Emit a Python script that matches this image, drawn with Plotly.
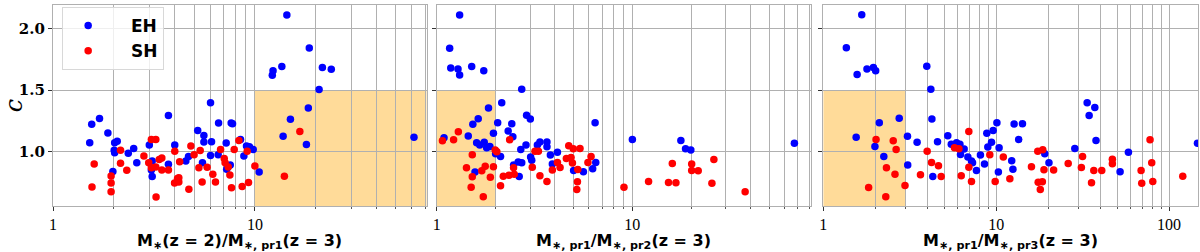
import math
import plotly.graph_objects as go

# ---------------- data ----------------
p1_eh_x = [1.52, 1.555, 1.70, 1.87, 2.01, 2.02, 2.08, 2.02, 1.98, 2.36, 2.51, 2.60, 3.0, 3.07, 3.10, 3.10,
           3.73, 3.73, 4.01, 4.55, 4.69, 5.21, 5.59, 5.59, 5.5, 6.03, 6.1, 6.03, 6.61, 6.58, 7.21, 7.63,
           7.75, 7.55, 7.25, 8.49, 8.82, 9.09, 9.4, 9.81, 10.5, 14.4, 18.6, 13.6, 12.3, 12.2, 21.6, 23.9,
           20.8, 18.4, 15.0, 13.8, 18.0, 61.4]
p1_eh_y = [1.073, 1.223, 1.269, 1.151, 1.013, 1.073, 1.086, 0.992, 0.839, 0.987, 1.027, 0.911, 1.054, 0.852,
           0.925, 0.80, 1.293, 0.898, 1.054, 0.925, 0.962, 1.172, 1.132, 1.078, 0.911, 1.398, 1.081, 0.97,
           1.234, 0.976, 1.07, 1.234, 1.226, 0.892, 0.858, 1.1, 0.965, 1.046, 1.04, 1.019, 0.836, 2.108,
           1.841, 1.691, 1.656, 1.621, 1.683, 1.669, 1.505, 1.355, 1.263, 1.126, 1.059, 1.118]
p1_sh_x = [1.56, 1.60, 1.94, 1.94, 1.94, 2.16, 2.16, 2.32, 2.82, 2.98, 3.07, 3.23, 3.07, 3.23, 3.36, 3.46,
           3.46, 3.73, 3.24, 4.01, 4.24, 4.0, 4.14, 4.2, 4.2, 4.71, 4.82, 5.0, 5.28, 5.36, 5.48, 5.8, 6.19,
           6.38, 6.76, 7.05, 7.12, 7.38, 7.52, 7.66, 7.9, 8.33, 8.65, 9.16, 9.3, 10.0, 16.7, 14.0]
p1_sh_y = [0.715, 0.9, 0.804, 0.747, 0.675, 1.013, 0.906, 0.849, 0.965, 0.911, 1.099, 1.099, 0.871, 0.876,
           0.938, 0.949, 0.852, 0.852, 0.632, 1.005, 0.919, 0.747, 0.782, 0.755, 0.79, 0.696, 1.046, 0.976,
           0.871, 1.011, 0.755, 0.874, 0.817, 0.755, 1.019, 0.946, 0.911, 0.876, 0.812, 0.707, 1.019, 1.091,
           0.718, 1.005, 0.75, 0.884, 1.164, 0.801]

p2_eh_x = [1.31, 1.165, 1.18, 1.285, 1.31, 1.51, 1.74, 2.72, 2.15, 1.84, 1.63, 1.53, 1.45, 1.09, 1.60, 1.66,
           1.75, 1.80, 1.87, 1.95, 2.05, 2.0, 2.12, 1.57, 2.32, 2.42, 2.45, 2.69, 2.86, 2.88, 3.01, 2.47,
           2.61, 2.72, 2.64, 3.02, 3.06, 3.27, 3.37, 3.66, 3.66, 3.81, 3.90, 4.14, 5.01, 5.62, 6.27, 6.5,
           6.45, 10.0, 17.7, 18.7, 19.9, 67.3]
p2_eh_y = [2.108, 1.84, 1.68, 1.672, 1.623, 1.691, 1.656, 1.507, 1.398, 1.355, 1.268, 1.222, 1.127, 1.114,
           1.073, 1.054, 1.076, 1.033, 1.043, 1.149, 1.236, 0.984, 0.962, 0.835, 1.168, 1.228, 1.122, 1.019,
           1.054, 1.295, 1.266, 0.892, 0.916, 0.911, 0.8, 0.957, 0.932, 1.054, 1.079, 1.079, 1.041, 0.973,
           0.9, 0.995, 0.848, 0.837, 0.862, 0.913, 1.236, 1.1, 1.092, 1.024, 1.014, 1.068]
p2_sh_x = [1.07, 1.22, 1.29, 1.52, 1.42, 1.52, 1.50, 1.73, 1.70, 1.77, 1.88, 1.95, 1.99, 2.03, 2.12, 2.19,
           2.36, 2.34, 2.47, 2.49, 3.08, 3.18, 3.31, 3.37, 3.66, 3.90, 4.14, 4.27, 4.6, 4.73, 4.99, 4.86,
           4.94, 5.26, 5.24, 5.2, 5.4, 5.93, 6.15, 9.06, 12.1, 15.3, 16.0, 16.7, 20.1, 20.1, 21.7, 26.1,
           25.5, 37.7]
p2_sh_y = [1.089, 1.098, 1.163, 0.976, 0.87, 0.797, 0.713, 0.634, 0.846, 0.883, 0.794, 0.878, 1.014, 1.0,
           0.724, 0.802, 1.098, 0.81, 0.87, 0.818, 0.875, 1.005, 1.005, 0.805, 0.759, 0.851, 0.913, 0.873,
           0.946, 1.049, 1.024, 0.954, 0.908, 0.856, 0.756, 0.694, 1.027, 0.913, 0.962, 0.713, 0.759, 0.751,
           0.905, 0.748, 0.9, 0.848, 0.846, 0.938, 0.745, 0.675]

p3_eh_x = [1.67, 1.36, 1.57, 1.79, 1.95, 2.01, 3.97, 4.19, 4.25, 2.75, 2.11, 1.55, 1.99, 2.24, 3.07, 3.08,
           3.49, 4.3, 4.58, 5.25, 5.5, 5.9, 6.17, 6.22, 6.53, 6.86, 7.2, 7.3, 7.69, 8.11, 8.56, 8.83, 8.95,
           9.4, 9.61, 10.1, 10.4, 10.3, 12.3, 12.5, 12.7, 13.5, 14.2, 19.1, 20.2, 28.5, 33.6, 34.5, 37.2,
           37.8, 52.1, 58.2, 146]
p3_eh_y = [2.111, 1.843, 1.626, 1.672, 1.683, 1.656, 1.694, 1.507, 1.266, 1.271, 1.236, 1.117, 1.043, 0.962,
           1.125, 0.892, 1.076, 0.8, 1.081, 1.13, 1.06, 1.073, 1.06, 0.978, 1.022, 0.957, 0.924, 0.911,
           0.848, 0.973, 0.9, 1.149, 1.038, 1.076, 1.173, 1.236, 1.033, 0.835, 0.927, 0.859, 1.225, 1.1,
           1.228, 0.984, 0.911, 1.027, 1.398, 1.293, 1.358, 1.092, 0.837, 0.995, 1.068]
p3_sh_x = [1.83, 2.02, 2.32, 2.30, 2.54, 2.64, 2.6, 2.97, 3.65, 3.99, 4.23, 4.64, 4.81, 5.74, 6.09, 6.28,
           6.95, 6.95, 7.2, 9.19, 9.87, 11.0, 12.0, 16.0, 17.4, 18.6, 18.9, 17.5, 18.5, 18.0, 21.5, 26.1,
           31.1, 31.6, 35.6, 36.7, 40.8, 47.0, 47.0, 68.9, 69.5, 77.6, 79.4, 80.5, 120]
p3_sh_y = [0.71, 1.1, 0.87, 0.634, 1.089, 1.019, 0.818, 0.726, 0.813, 1.005, 0.913, 0.886, 0.8, 1.033, 1.024,
           0.805, 1.165, 0.875, 0.759, 0.976, 0.759, 0.957, 0.78, 0.878, 1.005, 1.016, 0.854, 0.753, 0.756,
           0.694, 0.851, 0.905, 0.873, 0.962, 0.748, 0.848, 0.848, 0.902, 0.94, 0.848, 0.745, 1.098, 0.911,
           0.759, 0.802]

# x-axis upper limits and shaded regions (x0, x1, ytop)
x_max = [71.0, 81.5, 147.0]
shade_x0 = [10.0, 1.0, 1.0]
shade_x1 = [71.0, 2.0, 3.0]
shade_ytop = [1.5, 1.5, 1.5]
y_range = [0.56, 2.19]

x_titles = [
    "M<sub>∗</sub>(z = 2)/M<sub>∗, pr1</sub>(z = 3)",
    "M<sub>∗, pr1</sub>/M<sub>∗, pr2</sub>(z = 3)",
    "M<sub>∗, pr1</sub>/M<sub>∗, pr3</sub>(z = 3)",
]
major_ticks = [1, 10, 100]
major_text = ["1", "10", "100"]
minor_ticks = [2, 3, 4, 5, 6, 7, 8, 9, 20, 30, 40, 50, 60, 70, 80, 90, 200]
y_ticks = [1.0, 1.5, 2.0]
y_text = ["1.0", "1.5", "2.0"]
legend_names = ["EH", "SH"]

# ---------------- figure ----------------
W, H = 1200, 252
ML, MR, MT, MB = 53, 2, 5, 46
domains = [[0.0, 0.3264], [0.3351, 0.6617], [0.6727, 1.0]]
plot_h = H - MT - MB

GRID = "#b0b0b0"
BLUE = "#0000ff"
RED = "#ff0000"
SHADE = "#ffdb99"
NB = "&nbsp;" * 3

fig = go.Figure()
panels = [(p1_eh_x, p1_eh_y, p1_sh_x, p1_sh_y),
          (p2_eh_x, p2_eh_y, p2_sh_x, p2_sh_y),
          (p3_eh_x, p3_eh_y, p3_sh_x, p3_sh_y)]

for i, (ex, ey, sx, sy) in enumerate(panels):
    xa = "x" if i == 0 else f"x{i+1}"
    ya = "y" if i == 0 else f"y{i+1}"
    fig.add_trace(go.Scatter(x=ex, y=ey, mode="markers", name=NB + legend_names[0], showlegend=(i == 0),
                             marker=dict(color=BLUE, size=7.5, line=dict(width=0)),
                             xaxis=xa, yaxis=ya))
    fig.add_trace(go.Scatter(x=sx, y=sy, mode="markers", name=NB + legend_names[1], showlegend=(i == 0),
                             marker=dict(color=RED, size=7.5, line=dict(width=0)),
                             xaxis=xa, yaxis=ya))
    fig.add_shape(type="rect", xref=xa, yref=ya, x0=shade_x0[i], x1=shade_x1[i],
                  y0=y_range[0], y1=shade_ytop[i], fillcolor=SHADE, line=dict(width=0),
                  layer="below")

    xkey = "xaxis" if i == 0 else f"xaxis{i+1}"
    ykey = "yaxis" if i == 0 else f"yaxis{i+1}"
    fig.layout[xkey] = dict(
        type="log", domain=domains[i], anchor=ya, automargin=False,
        range=[0, math.log10(x_max[i])],
        tickvals=major_ticks, ticktext=major_text,
        ticks="outside", ticklen=4, tickcolor="#333333", ticklabelstandoff=0,
        tickfont=dict(family="Liberation Serif", size=16, color="black"),
        showgrid=True, gridcolor=GRID, gridwidth=1.2,
        minor=dict(tickvals=minor_ticks, showgrid=True, gridcolor=GRID, gridwidth=1.2,
                   ticks="outside", ticklen=2, tickcolor="#555555"),
        showline=True, linecolor=GRID, linewidth=1.2, mirror=True,
        zeroline=False,
    )
    fig.layout[ykey] = dict(
        domain=[0, 1], anchor=xa, range=y_range, automargin=False,
        tickvals=y_ticks, ticktext=y_text, showticklabels=(i == 0),
        ticks="outside", ticklen=4, tickcolor="#333333",
        tickfont=dict(family="DejaVu Serif", size=15, color="black", weight="bold"),
        showgrid=True, gridcolor=GRID, gridwidth=1.2,
        showline=True, linecolor=GRID, linewidth=1.2, mirror=True,
        zeroline=False,
    )
    # x-axis title as an annotation centred under the panel
    fig.add_annotation(text=x_titles[i], xref="paper", yref="paper",
                       x=(domains[i][0] + domains[i][1]) / 2, y=-(241 - (H - MB)) / plot_h,
                       xanchor="center", yanchor="middle", showarrow=False, borderpad=0,
                       font=dict(family="DejaVu Sans", size=16, color="black", weight="bold"))

fig.layout.yaxis.title = dict(text="<i>c</i>", standoff=8,
                              font=dict(family="DejaVu Serif", size=24, color="black"))

fig.update_layout(
    width=W, height=H,
    margin=dict(l=ML, r=MR, t=MT, b=MB, pad=0, autoexpand=False),
    paper_bgcolor="white", plot_bgcolor="white",
    showlegend=True,
    legend=dict(x=0.008, y=0.99, xanchor="left", yanchor="top",
                bgcolor="rgba(255,255,255,0.8)", bordercolor="#d8d8d8", borderwidth=1,
                font=dict(family="DejaVu Sans", size=17, color="black", weight="bold"),
                itemwidth=40),
)

fig.write_html("out.html", config={"displayModeBar": False},
               post_script="document.body.style.margin='0';document.body.style.overflow='hidden';")
